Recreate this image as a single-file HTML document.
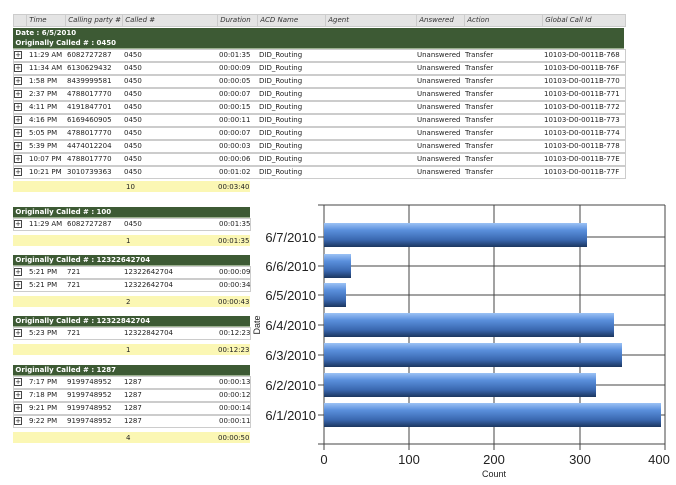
<!DOCTYPE html>
<html><head><meta charset="utf-8">
<style>
body{margin:0;width:676px;height:485px;background:#fff;position:relative;overflow:hidden;font-family:"DejaVu Sans","Liberation Sans",sans-serif;font-size:7px;color:#222}
.a{position:absolute;white-space:nowrap}
.hd{background:#e4e4e4;border:1px solid #ccc;font-style:italic;color:#333}
.g{background:#3d5a34;color:#fff;font-weight:bold;border-bottom:1px solid #9bb08f}
.r{background:#fff;border:1px solid #ccc}
.y{background:#fbf7b4}
.p{width:6px;height:6px;border:1px solid #444;font-size:7px;line-height:6px;text-align:center}
.cl{font-family:"Liberation Sans",sans-serif;font-size:13px;color:#222}
</style></head><body>
<div id="root"></div>
<svg class="a" style="left:0;top:0" width="676" height="485">
<defs><linearGradient id="bg" x1="0" y1="0" x2="0" y2="1">
<stop offset="0" stop-color="#9cc2f5"/><stop offset="0.3" stop-color="#5a8fdc"/><stop offset="0.7" stop-color="#3a68b0"/><stop offset="1" stop-color="#1c365f"/></linearGradient></defs>
<g stroke="#444" stroke-width="1">
<line x1="324" y1="205" x2="665" y2="205"/><line x1="324" y1="444" x2="665" y2="444"/>
<line x1="318" y1="237" x2="665" y2="237"/><line x1="318" y1="266" x2="665" y2="266"/><line x1="318" y1="295" x2="665" y2="295"/><line x1="318" y1="325" x2="665" y2="325"/><line x1="318" y1="355" x2="665" y2="355"/><line x1="318" y1="385" x2="665" y2="385"/><line x1="318" y1="415" x2="665" y2="415"/>
<line x1="318" y1="205" x2="324" y2="205"/><line x1="318" y1="444" x2="324" y2="444"/>
<line x1="324" y1="205" x2="324" y2="450"/><line x1="409" y1="205" x2="409" y2="450"/><line x1="494" y1="205" x2="494" y2="450"/><line x1="580" y1="205" x2="580" y2="450"/><line x1="665" y1="205" x2="665" y2="450"/>
</g>
<g fill="url(#bg)">
<rect x="324" y="223" width="263" height="24"/>
<rect x="324" y="254" width="27" height="24"/>
<rect x="324" y="283" width="22" height="24"/>
<rect x="324" y="313" width="290" height="24"/>
<rect x="324" y="343" width="298" height="24"/>
<rect x="324" y="373" width="272" height="24"/>
<rect x="324" y="403" width="337" height="24"/>
</g>
<g font-family="Liberation Sans, sans-serif" font-size="13" fill="#222" text-anchor="end">
<text x="316" y="242">6/7/2010</text><text x="316" y="271">6/6/2010</text><text x="316" y="300">6/5/2010</text><text x="316" y="330">6/4/2010</text><text x="316" y="360">6/3/2010</text><text x="316" y="390">6/2/2010</text><text x="316" y="420">6/1/2010</text>
</g>
<g font-family="Liberation Sans, sans-serif" font-size="13" fill="#222" text-anchor="middle">
<text x="324" y="464">0</text><text x="409" y="464">100</text><text x="494" y="464">200</text><text x="580" y="464">300</text><text x="659" y="464">400</text>
</g>
<text x="494" y="477" font-family="Liberation Sans, sans-serif" font-size="9" fill="#222" text-anchor="middle">Count</text>
<text transform="translate(260,325) rotate(-90)" font-family="Liberation Sans, sans-serif" font-size="9" fill="#222" text-anchor="middle">Date</text>
</svg>
<script>
var R=document.getElementById('root'),h='';
function d(c,x,y,w,hh,t,s){h+='<div class="a '+c+'" style="left:'+x+'px;top:'+y+'px;width:'+w+'px;height:'+hh+'px;line-height:'+hh+'px;'+(s||'')+'">'+(t||'')+'</div>';}
d('hd',13,14,611,11,'');
var cols=[[26,'Time'],[65,'Calling party #'],[122,'Called #'],[217,'Duration'],[257,'ACD Name'],[325,'Agent'],[416,'Answered'],[464,'Action'],[542,'Global Call Id']];
cols.forEach(function(c){d('',c[0],14,60,12,'&nbsp;'+c[1],'font-style:italic;color:#333;border-left:1px solid #ccc');});
d('g',13,28,611,10,'&nbsp;Date : 6/5/2010');
d('g',13,38,611,10,'&nbsp;Originally Called # : 0450');
var r1=[['11:29 AM','6082727287','00:01:35','768'],['11:34 AM','6130629432','00:00:09','76F'],['1:58 PM','8439999581','00:00:05','770'],['2:37 PM','4788017770','00:00:07','771'],['4:11 PM','4191847701','00:00:15','772'],['4:16 PM','6169460905','00:00:11','773'],['5:05 PM','4788017770','00:00:07','774'],['5:39 PM','4474012204','00:00:03','778'],['10:07 PM','4788017770','00:00:06','77E'],['10:21 PM','3010739363','00:01:02','77F']];
function row(y,r,wide){
 d('r',13,y,wide?611:236,11,'');
 d('p',14,y+2,6,6,'+');
 d('',29,y,50,12,r[0]);d('',67,y,60,12,r[1]);d('',124,y,60,12,r[4]||'0450');d('',219,y,40,12,r[2]);
 if(wide){d('',259,y,60,12,'DID_Routing');d('',417,y,60,12,'Unanswered');d('',465,y,50,12,'Transfer');d('',544,y,80,12,'10103-D0-0011B-'+r[3]);}
}
r1.forEach(function(r,i){row(49+i*13,r,true);});
function sum(y,n,t){d('y',13,y,237,11,'');d('',126,y,20,12,n);d('',218,y,40,12,t);}
sum(181,'10','00:03:40');
function grp(y,title,rows,n,t){
 d('g',13,y,237,10,'&nbsp;'+title);
 rows.forEach(function(r,i){row(y+11+i*13,r,false);});
 sum(y+11+rows.length*13+4,n,t);
}
grp(207,'Originally Called # : 100',[['11:29 AM','6082727287','00:01:35','','0450']],'1','00:01:35');
grp(255,'Originally Called # : 12322642704',[['5:21 PM','721','00:00:09','','12322642704'],['5:21 PM','721','00:00:34','','12322642704']],'2','00:00:43');
grp(316,'Originally Called # : 12322842704',[['5:23 PM','721','00:12:23','','12322842704']],'1','00:12:23');
grp(365,'Originally Called # : 1287',[['7:17 PM','9199748952','00:00:13','','1287'],['7:18 PM','9199748952','00:00:12','','1287'],['9:21 PM','9199748952','00:00:14','','1287'],['9:22 PM','9199748952','00:00:11','','1287']],'4','00:00:50');
R.innerHTML=h;
</script>
</body></html>
